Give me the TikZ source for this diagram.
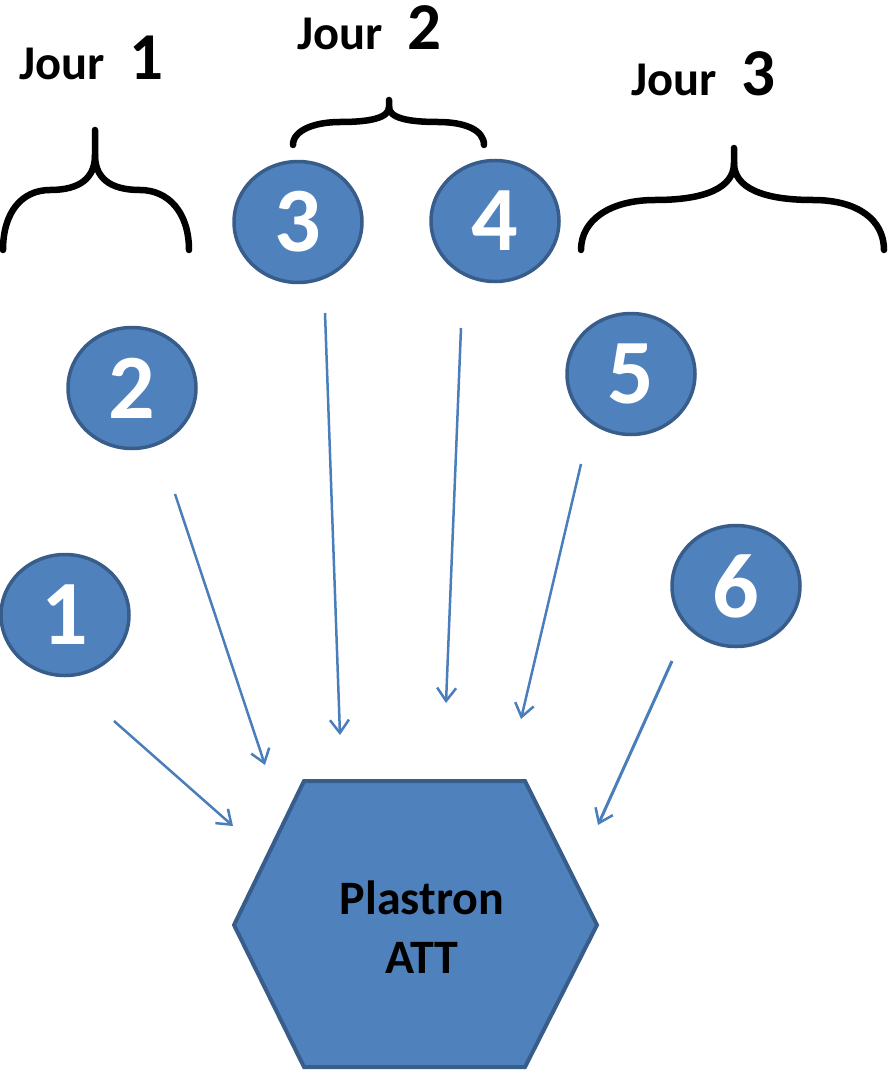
\documentclass[tikz,border=0pt]{standalone}
\usepackage{fontspec}
\setmainfont{Carlito}
\usetikzlibrary{shapes.geometric,arrows.meta}
\definecolor{cfill}{HTML}{4F81BD}
\definecolor{cline}{HTML}{385D8A}
\definecolor{carrow}{HTML}{4A7EBB}
\newcommand{\daynum}[1]{{\fontsize{67}{67}\selectfont\bfseries #1}}
\tikzset{
  bubble/.style={ellipse,fill=cfill,draw=cline,line width=3.5pt,minimum width=128pt,minimum height=121pt,inner sep=0pt,
    text=white,font=\fontsize{92}{92}\selectfont\bfseries},
  conn/.style={carrow,line width=2.5pt,-{Straight Barb[length=13pt,width=19pt,line width=2.5pt]}},
  bracepath/.style={black,line width=6.5pt,line cap=round},
  hexbox/.style={fill=cfill,draw=cline,line width=4pt,line join=miter},
  jourlabel/.style={anchor=base west,inner sep=0pt,font=\fontsize{48.5}{48.5}\selectfont\bfseries}
}
\begin{document}
\begin{tikzpicture}[x=1pt,y=-1pt]
\useasboundingbox (0,0) rectangle (887,1070);

% braces
\draw[bracepath] (3,250) .. controls (3,212) and (22,190) .. (50,190)
  .. controls (80,190) and (95,178) .. (95,155) -- (95,130);
\draw[bracepath] (95,155) .. controls (95,178) and (110,190) .. (140,190)
  .. controls (168,190) and (189,212) .. (189,250);

\draw[bracepath] (293,145) .. controls (293,130) and (315,122) .. (340,122)
  .. controls (370,122) and (389,118) .. (389,107) -- (389,100);
\draw[bracepath] (389,107) .. controls (389,118) and (408,122) .. (438,122)
  .. controls (465,122) and (484,130) .. (484,145);

\draw[bracepath] (581,250) .. controls (581,220) and (610,200) .. (655,200)
  .. controls (705,200) and (734,188) .. (734,163) -- (734,148);
\draw[bracepath] (734,163) .. controls (734,188) and (763,200) .. (813,200)
  .. controls (858,200) and (884,220) .. (884,250);

% day labels
\node[jourlabel] (j1) at (19,80) {Jour\hspace{25pt}\daynum{1}};
\node[jourlabel] (j2) at (297,50) {Jour\hspace{25pt}\daynum{2}};
\node[jourlabel] (j3) at (631,96) {Jour\hspace{25pt}\daynum{3}};

% bubbles
\node[bubble] (n1) at (65,615) {1};
\node[bubble] (n2) at (132,388) {2};
\node[bubble] (n3) at (298,222) {3};
\node[bubble] (n4) at (495,221) {4};
\node[bubble] (n5) at (631,374) {5};
\node[bubble] (n6) at (736,586) {6};

% hexagon
\draw[hexbox] (304,781) -- (525,781) -- (597,925) -- (525,1067) -- (304,1067) -- (234,925) -- cycle;
\node[align=center,font=\fontsize{48}{59}\selectfont\bfseries,text=black] (att) at (422,927) {Plastron\\ATT};

% arrows
\coordinate (s1) at (114,721); \coordinate (e1) at (233,826);
\coordinate (s2) at (175,494); \coordinate (e2) at (265,765);
\coordinate (s3) at (325,313); \coordinate (e3) at (340,735);
\coordinate (s4) at (461,328); \coordinate (e4) at (446,703);
\coordinate (s5) at (581,464); \coordinate (e5) at (521,719);
\coordinate (s6) at (672,661); \coordinate (e6) at (598,825);
\draw[conn] (s1) -- (e1);
\draw[conn] (s2) -- (e2);
\draw[conn] (s3) -- (e3);
\draw[conn] (s4) -- (e4);
\draw[conn] (s5) -- (e5);
\draw[conn,line width=3pt] (s6) -- (e6);
\end{tikzpicture}
\end{document}
